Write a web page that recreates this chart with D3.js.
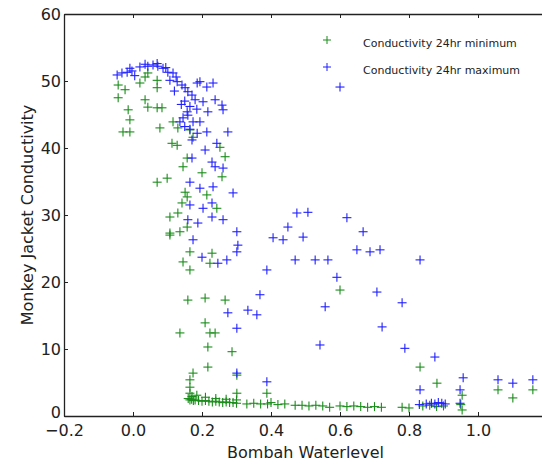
<!DOCTYPE html>
<html>
<head>
<meta charset="utf-8">
<script src="https://cdnjs.cloudflare.com/ajax/libs/d3/7.8.5/d3.min.js"></script>
<style>
  body { margin: 0; background: #fff; }
  text { font-family: "DejaVu Sans", sans-serif; fill: #222; }
</style>
</head>
<body>
<div id="chart"></div>
<script>
// 24hr minimum conductivity vs waterlevel  [waterlevel, conductivity]
var minSeries = [
  [-0.043, 49.4], [-0.023, 48.7], [-0.043, 47.5], [-0.014, 45.7], [-0.009, 44.2],
  [-0.029, 42.4], [-0.009, 42.4], [0.020, 49.7], [0.035, 50.6], [0.043, 51.2],
  [0.070, 50.1], [0.070, 49.0], [0.035, 47.2], [0.043, 46.1], [0.070, 46.0],
  [0.084, 46.0], [0.078, 43.0], [0.116, 43.9], [0.130, 43.0], [0.113, 40.7],
  [0.128, 40.4], [0.165, 42.7], [0.174, 41.6], [0.252, 40.1], [0.267, 38.7],
  [0.157, 38.5], [0.145, 37.2], [0.200, 36.3], [0.258, 35.7], [0.070, 34.9],
  [0.099, 35.5], [0.151, 33.4], [0.157, 32.7], [0.142, 31.8], [0.214, 33.0],
  [0.130, 30.3], [0.107, 29.7], [0.107, 27.3], [0.157, 28.2], [0.243, 31.0],
  [0.136, 27.5], [0.107, 27.0], [0.165, 24.5], [0.145, 23.0], [0.165, 21.8],
  [0.229, 24.3], [0.223, 22.8], [0.159, 17.3], [0.209, 17.6], [0.267, 17.3],
  [0.136, 12.4], [0.209, 13.9], [0.223, 12.4], [0.238, 12.4], [0.217, 10.3],
  [0.287, 9.6], [0.217, 7.3], [0.174, 6.4], [0.301, 6.1], [0.165, 5.4],
  [0.165, 4.3], [0.165, 3.4], [0.171, 2.9], [0.388, 3.4], [0.301, 3.4],
  [0.600, 18.8], [0.832, 7.3], [0.881, 4.9], [0.954, 3.1], [1.058, 3.9],
  [1.101, 2.7], [1.159, 3.9], [0.954, 0.9], [0.160, 2.6], [0.165, 2.4],
  [0.170, 2.5], [0.175, 2.3], [0.180, 2.4], [0.190, 2.3], [0.200, 2.2],
  [0.210, 2.3], [0.220, 2.2], [0.230, 2.1], [0.240, 2.2], [0.250, 2.1],
  [0.260, 2.0], [0.270, 2.1], [0.280, 2.0], [0.290, 2.0], [0.300, 1.9],
  [0.330, 1.8], [0.350, 1.9], [0.370, 1.8], [0.390, 1.8], [0.420, 1.7],
  [0.440, 1.8], [0.470, 1.6], [0.490, 1.6], [0.510, 1.5], [0.530, 1.6],
  [0.550, 1.5], [0.570, 1.3], [0.600, 1.5], [0.620, 1.4], [0.640, 1.5],
  [0.660, 1.4], [0.680, 1.3], [0.700, 1.4], [0.720, 1.3], [0.780, 1.3],
  [0.800, 1.2], [0.840, 1.5], [0.860, 1.6], [0.880, 1.4], [0.900, 1.5],
  [0.950, 1.7], [0.185, 3.1], [0.210, 2.8], [0.240, 2.6], [0.270, 2.5],
  [0.300, 2.4], [0.400, 2.0]
];

// 24hr maximum conductivity vs waterlevel  [waterlevel, conductivity]
var maxSeries = [
  [-0.046, 50.9], [-0.032, 51.2], [-0.017, 51.3], [-0.009, 51.9], [-0.003, 51.5],
  [0.020, 52.1], [0.035, 52.5], [0.043, 52.2], [0.058, 52.4], [0.072, 52.2],
  [0.087, 51.9], [0.101, 51.3], [0.116, 51.2], [0.107, 50.1], [0.128, 49.9],
  [0.142, 49.4], [0.151, 49.0], [0.159, 48.4], [0.171, 47.9], [0.180, 47.2],
  [0.186, 49.7], [0.194, 49.9], [0.214, 49.1], [0.232, 49.7], [0.238, 47.2],
  [0.258, 46.4], [0.261, 45.7], [0.203, 46.9], [0.217, 45.4], [0.157, 45.4],
  [0.145, 44.5], [0.136, 43.9], [0.159, 44.9], [0.174, 43.9], [0.194, 43.9],
  [0.214, 42.4], [0.186, 42.2], [0.171, 41.2], [0.275, 42.4], [0.243, 40.7],
  [0.209, 39.7], [0.171, 38.5], [0.229, 37.9], [0.238, 37.2], [0.261, 37.0],
  [0.290, 33.3], [0.232, 34.2], [0.194, 34.0], [0.165, 34.9], [0.229, 31.8],
  [0.203, 31.0], [0.165, 31.5], [0.159, 29.3], [0.261, 29.3], [0.301, 27.5],
  [0.475, 30.3], [0.507, 30.4], [0.406, 26.6], [0.449, 28.2], [0.188, 28.8],
  [0.229, 29.7], [0.174, 26.3], [0.304, 25.5], [0.301, 24.5], [0.200, 23.7],
  [0.246, 22.8], [0.272, 23.3], [0.435, 26.3], [0.493, 26.7], [0.388, 21.8],
  [0.470, 23.3], [0.528, 23.3], [0.565, 23.3], [0.591, 20.7], [0.368, 18.1],
  [0.333, 15.8], [0.359, 15.1], [0.275, 15.4], [0.301, 13.1], [0.557, 16.3],
  [0.542, 10.6], [0.301, 6.4], [0.388, 5.1], [0.620, 29.6], [0.667, 27.5],
  [0.649, 24.8], [0.687, 24.5], [0.716, 24.8], [0.832, 23.3], [0.707, 18.5],
  [0.780, 16.9], [0.722, 13.3], [0.788, 10.1], [0.875, 8.8], [0.832, 3.9],
  [0.957, 5.7], [0.948, 3.9], [1.058, 5.4], [1.101, 4.9], [1.159, 5.4],
  [0.948, 1.9], [0.600, 49.1], [0.830, 1.7], [0.850, 1.8], [0.865, 1.9],
  [0.875, 1.8], [0.885, 2.0], [0.895, 1.9], [0.905, 1.8], [0.070, 52.6],
  [0.095, 52.0], [0.150, 47.0], [0.165, 46.2], [0.140, 46.5], [0.185, 45.8],
  [0.150, 43.2], [0.165, 42.8], [0.125, 50.6], [0.005, 50.8], [0.120, 48.5]
];

var xTicks = [-0.2, 0.0, 0.2, 0.4, 0.6, 0.8, 1.0];
var yTicks = [0, 10, 20, 30, 40, 50, 60];
var legendLabels = ["Conductivity 24hr minimum", "Conductivity 24hr maximum"];
var seriesColors = ["#1a8c1a", "#1f1fff"];

var W = 542, H = 466;
var plotLeft = 64, plotTop = 14, plotBottom = 416, plotRight = 547;

var svg = d3.select("#chart").append("svg")
  .attr("width", W)
  .attr("height", H);

var x = d3.scaleLinear().domain([-0.2, 1.2]).range([plotLeft, plotRight]);
var y = d3.scaleLinear().domain([0, 60]).range([plotBottom, plotTop]);

function fmtX(d) {
  return d3.format(".1f")(d).replace("-", "\u2212");
}

// points drawn as "+" markers
function plus(g, data, color) {
  var s = 4.5;
  var pts = g.selectAll("g.pt").data(data).enter().append("g")
    .attr("class", "pt")
    .attr("transform", function (d) { return "translate(" + x(d[0]) + "," + y(d[1]) + ")"; });
  pts.append("line").attr("x1", -s).attr("x2", s).attr("y1", 0).attr("y2", 0);
  pts.append("line").attr("x1", 0).attr("x2", 0).attr("y1", -s).attr("y2", s);
  pts.selectAll("line").attr("stroke", color).attr("stroke-width", 1.1);
}

plus(svg.append("g"), minSeries, seriesColors[0]);
plus(svg.append("g"), maxSeries, seriesColors[1]);

// axes (matplotlib style, ticks inward)
svg.append("g")
  .attr("transform", "translate(0," + plotBottom + ")")
  .call(d3.axisBottom(x).tickValues(xTicks).tickFormat(fmtX).tickSizeInner(-4).tickSizeOuter(0).tickPadding(9));

svg.append("g")
  .attr("transform", "translate(0," + plotTop + ")")
  .call(d3.axisTop(x).tickValues(xTicks).tickFormat("").tickSizeInner(-4).tickSizeOuter(0));

var yAxis = svg.append("g")
  .attr("transform", "translate(" + plotLeft + ",0)")
  .call(d3.axisLeft(y).tickValues(yTicks).tickSizeInner(-4).tickSizeOuter(0).tickPadding(3));

// lift the "0" label a little so it clears the −0.2 below it
yAxis.selectAll(".tick text").filter(function (d) { return d === 0; }).attr("dy", "0.1em");

svg.selectAll(".domain").attr("stroke", "#222").attr("stroke-width", 1.3);
svg.selectAll(".tick line").attr("stroke", "#222");
svg.selectAll(".tick text").style("font-size", "16px").style("font-family", "DejaVu Sans").attr("fill", "#222");

// axis labels
svg.append("text")
  .attr("x", (plotLeft + plotRight) / 2)
  .attr("y", 458)
  .attr("text-anchor", "middle")
  .style("font-size", "16px")
  .text("Bombah Waterlevel");

svg.append("text")
  .attr("transform", "translate(27," + (plotTop + plotBottom) / 2 + ") rotate(-90)")
  .attr("text-anchor", "middle")
  .attr("dy", "0.35em")
  .style("font-size", "16px")
  .text("Monkey Jacket Conductivity");

// legend
var legend = svg.append("g").selectAll("g").data(legendLabels).enter().append("g")
  .attr("transform", function (d, i) { return "translate(327," + (40 + i * 27) + ")"; });
legend.append("line").attr("x1", -4).attr("x2", 4).attr("y1", 0).attr("y2", 0);
legend.append("line").attr("x1", 0).attr("x2", 0).attr("y1", -4).attr("y2", 4);
legend.each(function (d, i) {
  d3.select(this).selectAll("line").attr("stroke", seriesColors[i]).attr("stroke-width", 1);
});
legend.append("text")
  .attr("x", 36)
  .attr("y", 3)
  .attr("dy", "0.35em")
  .style("font-size", "11px")
  .text(function (d) { return d; });
</script>
</body>
</html>
